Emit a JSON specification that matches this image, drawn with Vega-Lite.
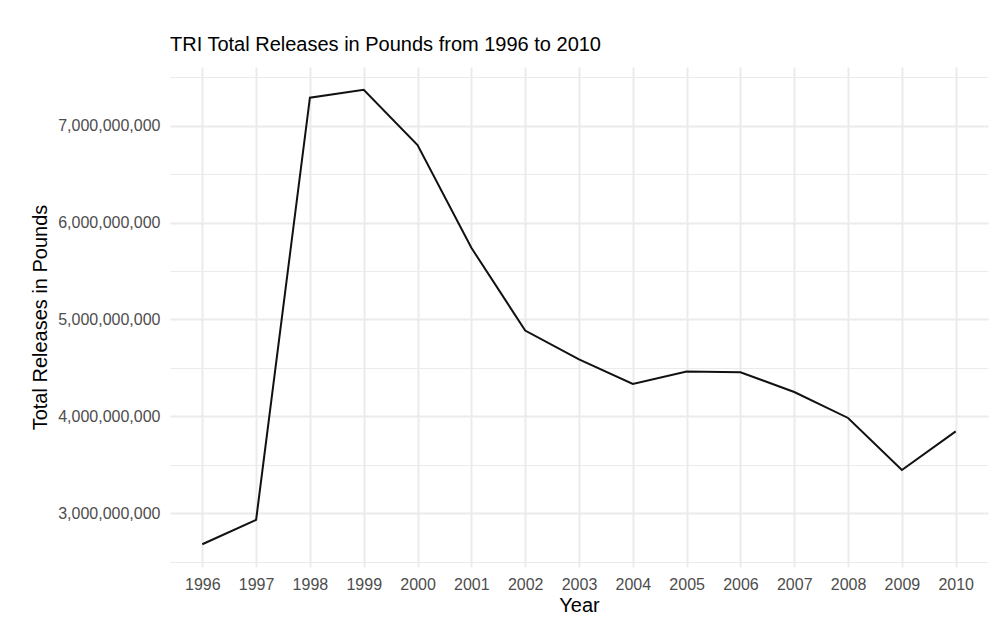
{
  "$schema": "https://vega.github.io/schema/vega-lite/v6.json",
  "autosize": {"type": "none"},
  "padding": {"left": 170, "top": 67, "right": 12, "bottom": 65},
  "width": 818,
  "height": 500,
  "background": "white",
  "title": {
    "text": "TRI Total Releases in Pounds from 1996 to 2010",
    "anchor": "start",
    "frame": "group",
    "font": "Liberation Sans",
    "fontSize": 20,
    "fontWeight": "normal",
    "color": "#000000",
    "baseline": "alphabetic",
    "offset": -4
  },
  "data": {
    "values": [
      {"Year": "1996", "Releases": 2679000000},
      {"Year": "1997", "Releases": 2930000000},
      {"Year": "1998", "Releases": 7290000000},
      {"Year": "1999", "Releases": 7372000000},
      {"Year": "2000", "Releases": 6800000000},
      {"Year": "2001", "Releases": 5740000000},
      {"Year": "2002", "Releases": 4886000000},
      {"Year": "2003", "Releases": 4587000000},
      {"Year": "2004", "Releases": 4334000000},
      {"Year": "2005", "Releases": 4462000000},
      {"Year": "2006", "Releases": 4455000000},
      {"Year": "2007", "Releases": 4251000000},
      {"Year": "2008", "Releases": 3983000000},
      {"Year": "2009", "Releases": 3445000000},
      {"Year": "2010", "Releases": 3845000000}
    ]
  },
  "mark": {"type": "line", "color": "#111111", "strokeWidth": 2},
  "encoding": {
    "x": {
      "field": "Year",
      "type": "ordinal",
      "scale": {"type": "point", "padding": 0.6},
      "axis": {
        "title": "Year",
        "labelAngle": 0,
        "labelOverlap": false,
        "domain": false,
        "ticks": false,
        "tickSize": 0,
        "labelPadding": 9,
        "labelFont": "Liberation Sans",
        "labelFontSize": 16,
        "labelColor": "#4d4d4d",
        "titleFont": "Liberation Sans",
        "titleFontSize": 20,
        "titleFontWeight": "normal",
        "titleColor": "#000000",
        "titlePadding": 3,
        "grid": true,
        "gridColor": "#ebebeb",
        "gridWidth": 2
      }
    },
    "y": {
      "field": "Releases",
      "type": "quantitative",
      "scale": {"domain": [2444000000, 7607000000], "nice": false, "zero": false},
      "axis": {
        "title": "Total Releases in Pounds",
        "values": [2500000000, 3000000000, 3500000000, 4000000000, 4500000000, 5000000000, 5500000000, 6000000000, 6500000000, 7000000000, 7500000000],
        "labelExpr": "datum.value % 1000000000 === 0 ? format(datum.value, ',d') : ''",
        "domain": false,
        "ticks": false,
        "tickSize": 0,
        "labelPadding": 10,
        "labelFont": "Liberation Sans",
        "labelFontSize": 16,
        "labelColor": "#4d4d4d",
        "labelOverlap": false,
        "titleFont": "Liberation Sans",
        "titleFontSize": 20,
        "titleFontWeight": "normal",
        "titleColor": "#000000",
        "titlePadding": 7,
        "grid": true,
        "gridColor": "#ebebeb",
        "gridWidth": {"condition": {"test": "datum.value % 1000000000 === 0", "value": 2}, "value": 1.2}
      }
    }
  },
  "config": {
    "view": {"stroke": null}
  }
}
